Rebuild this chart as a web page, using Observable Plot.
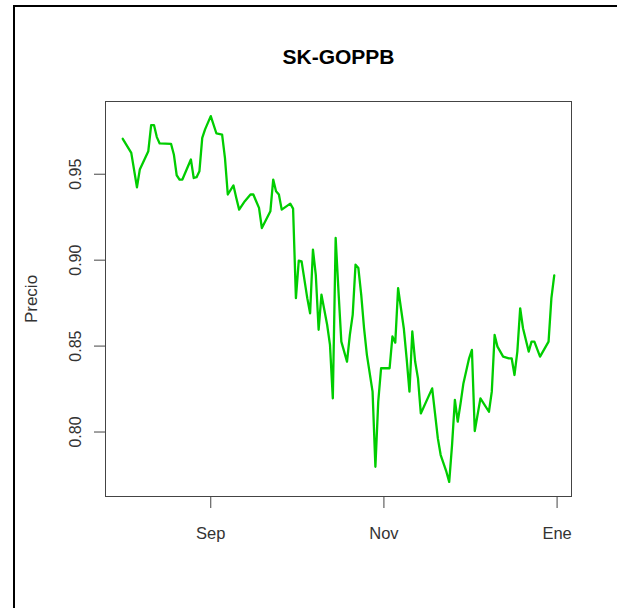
<!DOCTYPE html>
<html>
<head>
<meta charset="utf-8">
<script src="https://cdn.jsdelivr.net/npm/d3@7"></script>
<script src="https://cdn.jsdelivr.net/npm/@observablehq/plot@0.6"></script>
<style>
  html, body { margin: 0; padding: 0; background: #fff; }
  #wrap { position: relative; width: 617px; height: 608px; overflow: hidden; }
  #outer { position: absolute; left: 13px; top: 5px; width: 700px; height: 700px;
           border-left: 2px solid #000; border-top: 2px solid #000; }
  #chart { position: absolute; left: 0; top: 0; }
</style>
</head>
<body>
<div id="wrap"><div id="outer"></div><div id="chart"></div></div>
<script>
const title = "SK-GOPPB";
const yLabel = "Precio";
const dates = [
  "2008-08-01","2008-08-04","2008-08-06","2008-08-07","2008-08-10","2008-08-11","2008-08-12","2008-08-13","2008-08-14",
  "2008-08-18","2008-08-19","2008-08-20","2008-08-21","2008-08-22","2008-08-25","2008-08-26","2008-08-27","2008-08-28",
  "2008-08-29","2008-08-30","2008-09-01","2008-09-03","2008-09-05","2008-09-06","2008-09-07","2008-09-09","2008-09-10",
  "2008-09-11","2008-09-13","2008-09-15","2008-09-16","2008-09-17","2008-09-18","2008-09-19","2008-09-22","2008-09-23",
  "2008-09-24","2008-09-25","2008-09-26","2008-09-29","2008-09-30","2008-10-01","2008-10-02","2008-10-03","2008-10-05",
  "2008-10-06","2008-10-07","2008-10-08","2008-10-09","2008-10-10","2008-10-11","2008-10-12","2008-10-13","2008-10-14",
  "2008-10-15","2008-10-16","2008-10-17","2008-10-19","2008-10-20","2008-10-21","2008-10-22","2008-10-23","2008-10-24",
  "2008-10-25","2008-10-26","2008-10-28","2008-10-29","2008-10-30","2008-10-31","2008-11-03","2008-11-04","2008-11-05",
  "2008-11-06","2008-11-07","2008-11-08","2008-11-09","2008-11-10","2008-11-11","2008-11-12","2008-11-13","2008-11-14",
  "2008-11-18","2008-11-19","2008-11-20","2008-11-21","2008-11-23","2008-11-24","2008-11-25","2008-11-26","2008-11-27",
  "2008-11-28","2008-11-29","2008-12-01","2008-12-02","2008-12-03","2008-12-05","2008-12-08","2008-12-09","2008-12-10",
  "2008-12-11","2008-12-13","2008-12-15","2008-12-16","2008-12-17","2008-12-18","2008-12-19","2008-12-20","2008-12-22",
  "2008-12-23","2008-12-24","2008-12-26","2008-12-29","2008-12-30","2008-12-31"
];
const prices = [
  0.9706,0.9624,0.9424,0.9527,0.9634,0.9786,0.9786,0.9716,0.9679,
  0.9677,0.9615,0.9494,0.9469,0.9469,0.9586,0.9478,0.9483,0.9517,
  0.9712,0.9761,0.9838,0.9737,0.9731,0.9595,0.9382,0.9435,0.9362,
  0.9294,0.9343,0.9382,0.9382,0.9343,0.9304,0.9187,0.9284,0.9469,
  0.9401,0.9382,0.9294,0.9329,0.9300,0.8779,0.8997,0.8993,0.8779,
  0.8691,0.9061,0.8915,0.8595,0.8799,0.8711,0.8624,0.8507,0.8196,
  0.9129,0.8818,0.8526,0.8410,0.8565,0.8682,0.8974,0.8954,0.8799,
  0.8604,0.8449,0.8235,0.7798,0.8177,0.8371,0.8371,0.8556,0.8520,
  0.8837,0.8720,0.8604,0.8429,0.8235,0.8585,0.8410,0.8312,0.8108,
  0.8254,0.8108,0.7963,0.7866,0.7769,0.7710,0.7924,0.8187,0.8060,
  0.8167,0.8283,0.8429,0.8478,0.8006,0.8196,0.8118,0.8235,0.8565,
  0.8497,0.8439,0.8429,0.8429,0.8332,0.8468,0.8720,0.8604,0.8468,
  0.8526,0.8526,0.8439,0.8526,0.8779,0.8911
];
const xTickDates = ["2008-09-01","2008-11-01","2009-01-01"];
const xTickLabels = ["Sep","Nov","Ene"];
const yTicks = [0.80, 0.85, 0.90, 0.95];

const data = dates.map((d, i) => ({date: new Date(d), price: prices[i]}));
const xt = xTickDates.map(d => new Date(d));

// R-style 4% axis extension
const [x0, x1] = d3.extent(data, d => d.date);
const xpad = (x1 - x0) * 0.04;
const [y0, y1] = d3.extent(prices);
const ypad = (y1 - y0) * 0.04;

const font = "'Liberation Sans', Arial, Helvetica, sans-serif";

const plot = Plot.plot({
  width: 617,
  height: 608,
  marginLeft: 105,
  marginRight: 46,
  marginTop: 101,
  marginBottom: 112,
  style: {fontFamily: font, fontSize: "16px", color: "#333", background: "transparent"},
  x: {type: "utc", domain: [new Date(+x0 - xpad), new Date(+x1 + xpad)]},
  y: {domain: [y0 - ypad, y1 + ypad]},
  marks: [
    Plot.line(data, {x: "date", y: "price", stroke: "#00CD00", strokeWidth: 2.3}),
    Plot.frame({stroke: "#444", strokeWidth: 1}),
    Plot.axisX(xt, {
      tickSize: 12, tickPadding: 19, fontSize: 16.5, stroke: "#444", fill: "#333",
      tickFormat: d => xTickLabels[xt.findIndex(t => +t === +d)], label: null
    }),
    Plot.axisY(yTicks, {tickSize: 11, tickFormat: () => "", label: null, stroke: "#444"}),
    Plot.text(yTicks, {
      y: d => d, frameAnchor: "left", textAnchor: "middle", rotate: -90, dx: -30,
      text: d => d.toFixed(2), fontSize: 16, fill: "#333"
    }),
    Plot.text([yLabel], {
      frameAnchor: "left", textAnchor: "middle", rotate: -90, dx: -74,
      text: d => d, fontSize: 17, fill: "#333"
    }),
    Plot.text([title], {
      frameAnchor: "top", textAnchor: "middle", lineAnchor: "middle", dy: -44, text: d => d,
      fontSize: 21, fontWeight: "bold", fill: "#000"
    })
  ]
});
document.getElementById("chart").appendChild(plot);
</script>
</body>
</html>
